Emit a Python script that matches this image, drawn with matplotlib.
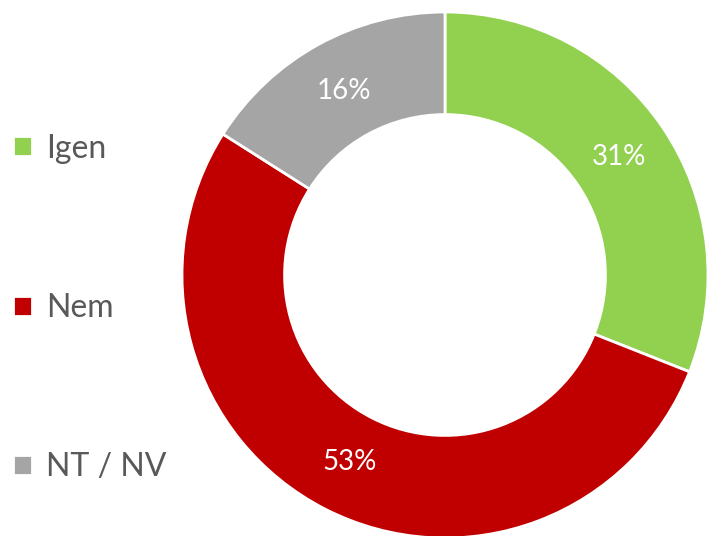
import matplotlib.pyplot as plt

labels = ["Igen", "Nem", "NT / NV"]
shares = [31, 53, 16]
colors = ["#92D050", "#C00000", "#A5A5A5"]

W, H = 707, 536
cx, cy, R = 445, 275, 263   # pixel centre (from top) and outer radius

fig = plt.figure(figsize=(W / 100, H / 100), dpi=100)
ax = fig.add_axes([0, 0, 1, 1])

wedges, _, autotexts = ax.pie(
    shares, colors=colors, startangle=90, counterclock=False,
    radius=1, autopct=lambda p: f"{round(p)}%", pctdistance=0.80,
    wedgeprops=dict(width=0.39, edgecolor="white", linewidth=2),
    textprops=dict(color="white", fontsize=20, family="Lato"),
)

ax.set_xlim(-cx / R, (W - cx) / R)
ax.set_ylim(-(H - cy) / R, cy / R)
ax.set_aspect("auto")
ax.axis("off")

leg = ax.legend(wedges, labels, loc="center left", bbox_to_anchor=(13 / W, 1 - 308 / H),
                bbox_transform=fig.transFigure, frameon=False,
                prop=dict(family="Lato", size=23), labelcolor="#595959",
                labelspacing=4.05, handlelength=0.58, handleheight=0.58,
                handletextpad=0.45, borderaxespad=0, borderpad=0)

plt.savefig("out.png", dpi=100)
